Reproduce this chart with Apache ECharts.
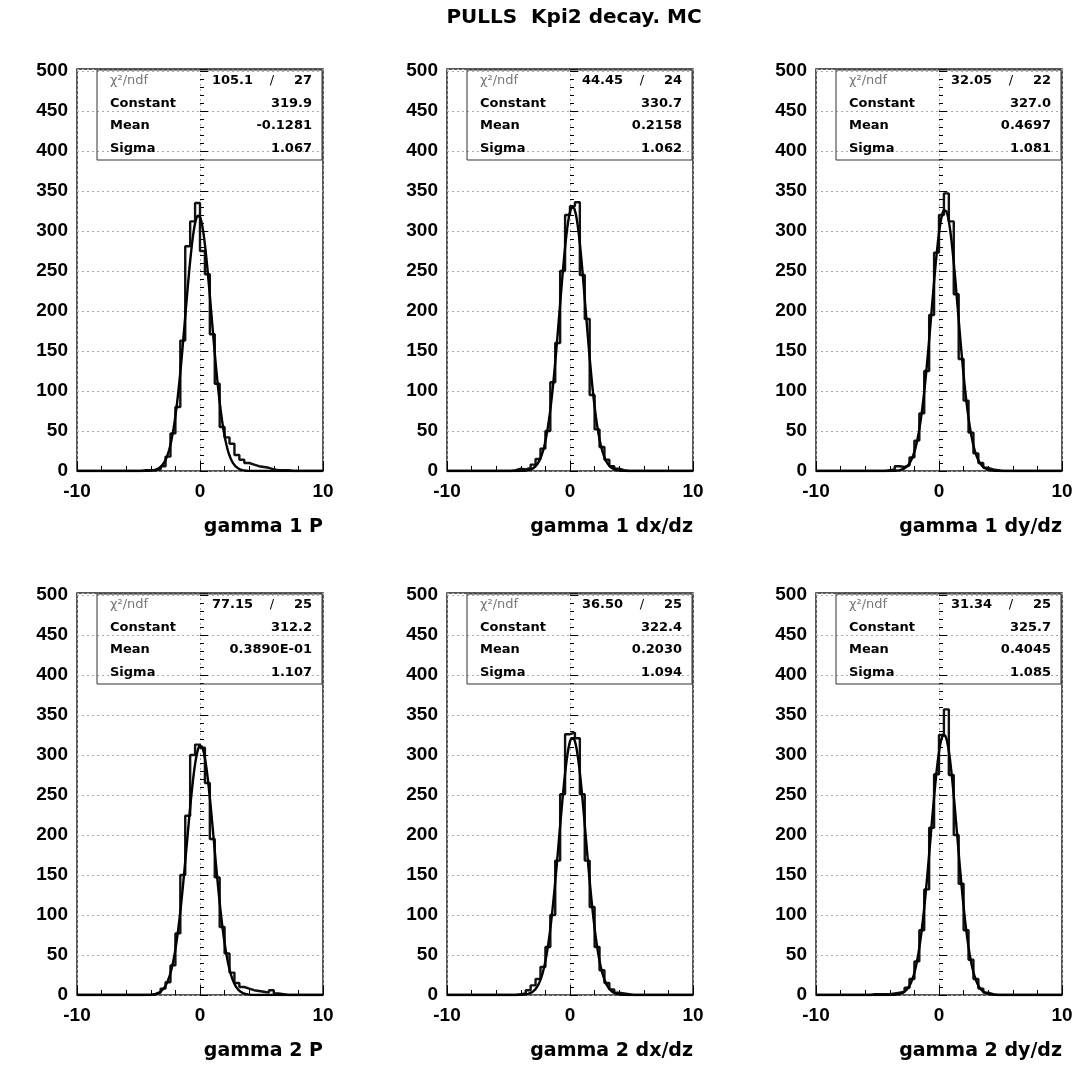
<!DOCTYPE html>
<html><head><meta charset="utf-8">
<script src="https://cdn.jsdelivr.net/npm/echarts@6/dist/echarts.min.js"></script>
<style>html,body{margin:0;padding:0;background:#fff}#c{width:1081px;height:1070px}</style>
</head><body><div id="c"></div>
<script>
// ---------- data ----------
const chartTitle = 'PULLS  Kpi2 decay. MC';
const xTitles = ['gamma 1 P', 'gamma 1 dx/dz', 'gamma 1 dy/dz', 'gamma 2 P', 'gamma 2 dx/dz', 'gamma 2 dy/dz'];
const binLow = -10, binHigh = 10;           // 50 bins of width 0.4
const g1P    = [0,0,0,0,0,0,0,0,0,0,0,0,0, 1,1,1,2,6,18,47,80,163,281,312,335,275,246,171,109,55,42,34,20,14,10,8,6,5,4,2,1,1,1, 0,0,0,0,0,0,0];
const g1DxDz = [0,0,0,0,0,0,0,0,0,0,0,0,0, 1,3,2,4,8,15,28,50,111,160,250,320,331,336,245,190,95,52,30,14,6,3,1, 0,0,0,0,0,0,0,0,0,0,0,0,0,0];
const g1DyDz = [0,0,0,0,0,0,0,0,0,0,0,0,0,0, 1,2,6,5,7,17,38,72,125,195,273,320,347,312,221,140,88,48,22,10,4,2,1, 0,0,0,0,0,0,0,0,0,0,0,0,0];
const g2P    = [0,0,0,0,0,0,0,0,0,0,0,0,0,0,0, 1,3,8,16,37,77,150,224,300,313,309,265,195,147,85,52,28,15,10,8,6,5,4,3,6,2,1, 0,0,0,0,0,0,0,0];
const g2DxDz = [0,0,0,0,0,0,0,0,0,0,0,0,0,0, 1,2,6,12,20,35,60,100,168,251,326,328,321,251,168,110,60,31,15,7,3,2,1, 0,0,0,0,0,0,0,0,0,0,0,0,0];
const g2DyDz = [0,0,0,0,0,0,0,0,0,0,0, 1,1,1,1,2,3,4,9,20,42,81,132,209,276,325,357,275,200,139,81,44,20,8,3,1, 0,0,0,0,0,0,0,0,0,0,0,0,0,0];
const histograms = [g1P, g1DxDz, g1DyDz, g2P, g2DxDz, g2DyDz];
const chi2      = ['105.1', '44.45', '32.05', '77.15', '36.50', '31.34'];
const ndf       = ['27', '24', '22', '25', '25', '25'];
const constants = ['319.9', '330.7', '327.0', '312.2', '322.4', '325.7'];
const means     = ['-0.1281', '0.2158', '0.4697', '0.3890E-01', '0.2030', '0.4045'];
const sigmas    = ['1.067', '1.062', '1.081', '1.107', '1.094', '1.085'];

// ---------- layout ----------
const COLS = [77, 447, 816], ROWS = [69, 593], PW = 246, PH = 402;
const TICKFONT = 'Liberation Sans, Arial, sans-serif';
const TXTFONT = 'DejaVu Sans, sans-serif';

const grids = [], xAxes = [], yAxes = [], series = [], graphics = [];
graphics.push({type:'text', x:574, y:17.5, style:{text:chartTitle, fill:'#000', font:'bold 20px ' + TXTFONT, align:'center', verticalAlign:'middle', textAlign:'center', textVerticalAlign:'middle'}});

histograms.forEach((hist, p) => {
  const gl = COLS[p % 3], gt = ROWS[Math.floor(p / 3)];
  grids.push({left: gl, top: gt, width: PW, height: PH, show: true, borderColor: '#222', borderWidth: 1.5, backgroundColor: 'transparent'});
  xAxes.push({gridIndex: p, type: 'value', min: binLow, max: binHigh, interval: 10,
    axisLine: {show: false},
    axisTick: {show: true, inside: true, length: 10, lineStyle: {color: '#000', width: 1}},
    minorTick: {show: true, splitNumber: 5, length: 5, lineStyle: {color: '#000', width: 1}},
    splitLine: {show: true, lineStyle: {color: '#aaa', type: [2, 3], width: 1}},
    axisLabel: {margin: 11, fontSize: 19, fontWeight: 'bold', fontFamily: TICKFONT, color: '#000'}});
  yAxes.push({gridIndex: p, type: 'value', min: 0, max: 502.5, interval: 50,
    axisLine: {show: false},
    axisTick: {show: true, inside: true, length: 8, lineStyle: {color: '#000', width: 1}},
    minorTick: {show: true, splitNumber: 5, length: 4, lineStyle: {color: '#000', width: 1}},
    splitLine: {show: true, lineStyle: {color: '#aaa', type: [2, 3], width: 1}},
    axisLabel: {margin: 9, fontSize: 19, fontWeight: 'bold', fontFamily: TICKFONT, color: '#000',
      formatter: v => (Math.abs(v % 50) < 1e-9 ? String(v) : '')}});
  const bw = (binHigh - binLow) / hist.length;
  const hdata = hist.map((v, i) => [binLow + i * bw, v]);
  hdata.push([binHigh, hist[hist.length - 1]]);
  series.push({type: 'line', xAxisIndex: p, yAxisIndex: p, data: hdata, step: 'end', symbol: 'none',
    lineStyle: {color: '#111', width: 2.4}, z: 3});
  // fitted gaussian drawn from the printed fit parameters
  const C = parseFloat(constants[p]), M = parseFloat(means[p]), S = parseFloat(sigmas[p]);
  const fdata = [];
  for (let k = 0; k <= 400; k++) { const x = binLow + k * (binHigh - binLow) / 400; fdata.push([x, C * Math.exp(-0.5 * ((x - M) / S) ** 2)]); }
  series.push({type: 'line', xAxisIndex: p, yAxisIndex: p, data: fdata, symbol: 'none', smooth: false,
    lineStyle: {color: '#000', width: 2.4}, z: 4});

  // stats box
  const bx = gl + 20, by = gt + 1, bwid = PW - 21, bh = 90;
  graphics.push({type: 'rect', shape: {x: bx, y: by, width: bwid, height: bh}, style: {fill: 'none', stroke: '#333', lineWidth: 1}, z: 10});
  const rows = [12, 34.5, 57, 79.5];
  const lab = (txt, x, y, align, color, font) => graphics.push({type: 'text', x: x, y: y, z: 11,
    style: {text: txt, fill: color, font: font, align: align, verticalAlign: 'middle', textAlign: align, textVerticalAlign: 'middle'}});
  const bold = 'bold 13px ' + TXTFONT, norm = '13px ' + TXTFONT;
  lab('\u03C7\u00B2/ndf', bx + 13, gt + rows[0], 'left', '#777', norm);
  lab(chi2[p], bx + bwid - 69, gt + rows[0], 'right', '#000', bold);
  lab('/', bx + bwid - 50, gt + rows[0], 'center', '#000', norm);
  lab(ndf[p], bx + bwid - 10, gt + rows[0], 'right', '#000', bold);
  lab('Constant', bx + 13, gt + rows[1], 'left', '#000', bold);
  lab(constants[p], bx + bwid - 10, gt + rows[1], 'right', '#000', bold);
  lab('Mean', bx + 13, gt + rows[2], 'left', '#000', bold);
  lab(means[p], bx + bwid - 10, gt + rows[2], 'right', '#000', bold);
  lab('Sigma', bx + 13, gt + rows[3], 'left', '#000', bold);
  lab(sigmas[p], bx + bwid - 10, gt + rows[3], 'right', '#000', bold);

  // x-axis title
  graphics.push({type: 'text', x: gl + PW, y: gt + PH + 56, z: 11,
    style: {text: xTitles[p], fill: '#000', font: 'bold 19px ' + TXTFONT, align: 'right', verticalAlign: 'middle', textAlign: 'right', textVerticalAlign: 'middle'}});
});

const chart = echarts.init(document.getElementById('c'), null, {renderer: 'canvas'});
chart.setOption({animation: false, backgroundColor: '#fff', grid: grids, xAxis: xAxes, yAxis: yAxes, series: series, graphic: graphics});
</script></body></html>
